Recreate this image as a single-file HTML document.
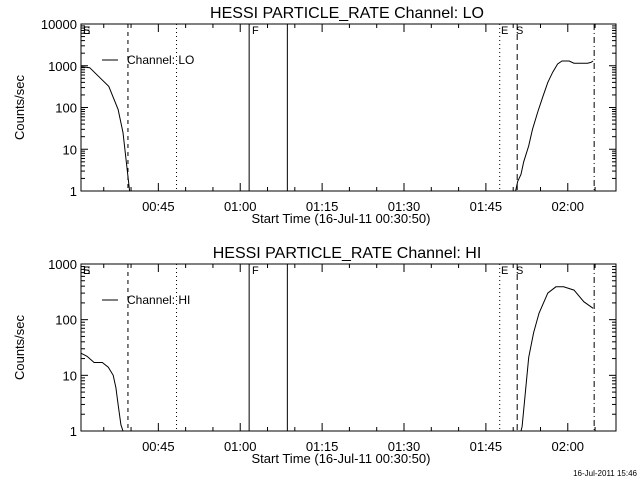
<!DOCTYPE html>
<html><head><meta charset="utf-8"><style>
body{margin:0;background:#fff}
svg{display:block}
text{font-family:"Liberation Sans",sans-serif;fill:#000}
</style></head><body>
<svg id="c" width="640" height="480" viewBox="0 0 640 480" xmlns="http://www.w3.org/2000/svg"></svg>
<script>
// Data (time in minutes since 00:30:50)
const xTickLabels = ["00:45","01:00","01:15","01:30","01:45","02:00"];
const xTickMinutes = [14.167,29.167,44.167,59.167,74.167,89.167];
const loTimesA = [0,1.6,5.1,6.8,7.7,8.3,8.9];
const loValsA = [950,900,320,90,25,5,1];
const loTimesB = [79.6,80,80.6,81.1,82,82.7,83.7,84.6,85.5,86.4,87.3,88.1,89.4,90.3,92.8,93.4,93.8];
const loValsB = [1,1.7,2.5,5,12,30,80,180,400,700,1100,1300,1300,1150,1150,1200,1300];
const hiTimesA = [0,1.1,2.4,3.9,5.0,5.9,6.4,6.8,7.3,7.7];
const hiValsA = [25,22,17,17,14,10,6,3,1.3,1];
const hiTimesB = [80.6,80.8,82,82.9,83.9,85.5,87,88.4,90.3,92.1,93.8];
const hiValsB = [1,1.2,21,58,130,300,390,390,340,210,160];
const markerTimes = [8.6,17.5,30.8,37.8,76.7,79.9,94.0];
const markerStyles = ["4,4","1,3","","","1,3","6,4","6,3,1,3"];
const yLabelsLO = ["1","10","100","1000","10000"];
const yLabelsHI = ["1","10","100","1000"];

const svg = document.getElementById('c');
const NS = "http://www.w3.org/2000/svg";
const X0 = 81, X1 = 616, TMAX = 98;
function xs(t){ return X0 + t*(X1-X0)/TMAX; }
function mk(tag, attrs, name, parent){
  const e = document.createElementNS(NS, tag);
  for (const k in attrs) e.setAttribute(k, attrs[k]);
  
  
  (parent||svg).appendChild(e);
  return e;
}
function panel(p){
  const g = mk('g', {}, p.name);
  const ys = v => p.yb - Math.log10(v)*(p.yb-p.yt)/p.dec;
  mk('rect',{x:X0,y:p.yt,width:X1-X0,height:p.yb-p.yt,fill:'none',stroke:'#000','stroke-width':1},'plot-frame',g);
  // y ticks
  for(let d=0; d<=p.dec; d++){
    const y = ys(Math.pow(10,d));
    mk('line',{x1:X0,y1:y,x2:X0+7,y2:y,stroke:'#000'},'y-major-tick',g);
    mk('line',{x1:X1,y1:y,x2:X1-7,y2:y,stroke:'#000'},'y-major-tick-right',g);
    const t = mk('text',{x:X0-4,y:y+5,'text-anchor':'end','font-size':13},'y-tick-label',g);
    t.textContent = p.ylabels[d];
    if(d<p.dec) for(let m=2;m<10;m++){
      const yy = ys(m*Math.pow(10,d));
      mk('line',{x1:X0,y1:yy,x2:X0+4,y2:yy,stroke:'#000'},'y-minor-tick',g);
      mk('line',{x1:X1,y1:yy,x2:X1-4,y2:yy,stroke:'#000'},'y-minor-tick-right',g);
    }
  }
  // x ticks
  for(let t=14.167-15; t<TMAX; t+=5){
    if(t<0) continue;
    const x = xs(t);
    const major = Math.abs(((t-14.167)%15+15)%15)<0.01 || Math.abs(((t-14.167)%15+15)%15-15)<0.01;
    const L = major?8:4;
    mk('line',{x1:x,y1:p.yb,x2:x,y2:p.yb-L,stroke:'#000'},'x-tick',g);
    mk('line',{x1:x,y1:p.yt,x2:x,y2:p.yt+L,stroke:'#000'},'x-tick-top',g);
  }
  xTickMinutes.forEach((m,i)=>{
    const t = mk('text',{x:xs(m),y:p.yb+20,'text-anchor':'middle','font-size':13},'x-tick-label',g);
    t.textContent = xTickLabels[i];
  });
  const xl = mk('text',{x:341,y:p.yb+32,'text-anchor':'middle','font-size':13},'x-axis-title',g);
  xl.textContent = "Start Time (16-Jul-11 00:30:50)";
  const cy=(p.yt+p.yb)/2;
  const yl = mk('text',{x:24,y:cy,'text-anchor':'middle','font-size':13,transform:`rotate(-90 24 ${cy})`},'y-axis-title',g);
  yl.textContent = "Counts/sec";
  const ti = mk('text',{x:347,y:p.yt-6,'text-anchor':'middle','font-size':16},'chart-title',g);
  ti.textContent = p.title;
  // markers
  markerTimes.forEach((m,i)=>{
    const x = xs(m);
    const a={x1:x,y1:p.yt,x2:x,y2:p.yb,stroke:'#000','stroke-width':1};
    if(markerStyles[i]) a['stroke-dasharray']=markerStyles[i];
    mk('line',a,'time-marker',g);
  });
  [["E",83],["S",83],["F",252],["E",501],["S",516]].forEach(l=>{
    const t=mk('text',{x:l[1],y:p.yt+10,'font-size':11},'marker-label',g);
    t.textContent=l[0];
  });
  // series
  p.series.forEach(s=>{
    const pts = s[0].map((t,i)=>xs(t).toFixed(1)+','+ys(s[1][i]).toFixed(1)).join(' ');
    mk('polyline',{points:pts,fill:'none',stroke:'#000','stroke-width':1},'series-line',g);
  });
  // legend
  const ly = p.yt+36;
  mk('line',{x1:102,y1:ly,x2:118,y2:ly,stroke:'#000'},'legend-line',g);
  const lt = mk('text',{x:127,y:ly+4,'font-size':12},'legend-entry',g);
  lt.textContent = p.legend;
}
panel({name:'panel-lo',yt:24,yb:191,dec:4,ylabels:yLabelsLO,title:"HESSI PARTICLE_RATE Channel: LO",legend:"Channel: LO",
  series:[[loTimesA,loValsA],[loTimesB,loValsB]]});
panel({name:'panel-hi',yt:264,yb:431,dec:3,ylabels:yLabelsHI,title:"HESSI PARTICLE_RATE Channel: HI",legend:"Channel: HI",
  series:[[hiTimesA,hiValsA],[hiTimesB,hiValsB]]});
const ts = mk('text',{x:637,y:476,'text-anchor':'end','font-size':8},'timestamp');
ts.textContent = "16-Jul-2011 15:46";
</script>
</body></html>
